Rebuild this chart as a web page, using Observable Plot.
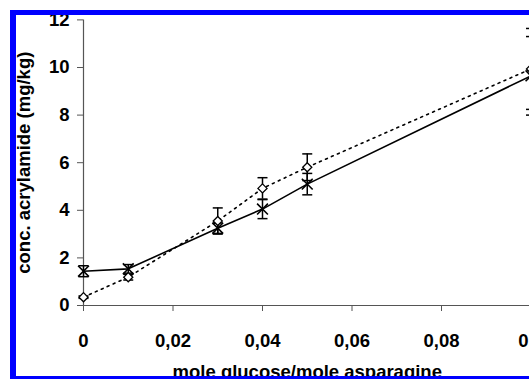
<!DOCTYPE html>
<html>
<head>
<meta charset="utf-8">
<script src="https://cdn.jsdelivr.net/npm/d3@7"></script>
<script src="https://cdn.jsdelivr.net/npm/@observablehq/plot@0.6"></script>
<style>
  html, body { margin: 0; padding: 0; background: #fff; overflow: hidden; }
  #wrap { position: relative; width: 529px; height: 379px; overflow: hidden; }
  #frame { position: absolute; left: 10px; top: 10px; width: 700px; height: 371px;
           box-sizing: border-box; border: 5px solid #0000ff; border-left-width: 6px;
           pointer-events: none; z-index: 2; }
</style>
</head>
<body>
<div id="wrap"><div id="frame"></div></div>
<script>
// data
const ratio = [0, 0.01, 0.03, 0.04, 0.05, 0.1];           // mole glucose / mole asparagine
const solidMean = [1.44, 1.54, 3.25, 4.05, 5.1, 9.65];     // series with x markers, solid line
const solidErr  = [0.23, 0.18, 0.22, 0.40, 0.45, 1.65];
const dottedMean = [0.35, 1.19, 3.55, 4.92, 5.81, 9.94];   // series with diamonds, dotted line
const dottedErr  = [0.05, 0.12, 0.55, 0.45, 0.56, 1.70];
const xTicks = [0, 0.02, 0.04, 0.06, 0.08, 0.1];
const xTickLabels = ["0", "0,02", "0,04", "0,06", "0,08", "0,1"];
const yTicks = [0, 2, 4, 6, 8, 10, 12];
const xLabel = "mole glucose/mole asparagine";
const yLabel = "conc. acrylamide (mg/kg)";

const solid = ratio.map((x, i) => ({x, y: solidMean[i], lo: solidMean[i] - solidErr[i], hi: solidMean[i] + solidErr[i]}));
const dotted = ratio.map((x, i) => ({x, y: dottedMean[i], lo: dottedMean[i] - dottedErr[i], hi: dottedMean[i] + dottedErr[i]}));

const capSymbol = {
  draw(context, size) {
    const r = Math.sqrt(size / Math.PI);
    context.moveTo(-r, 0);
    context.lineTo(r, 0);
  }
};

function errMarks(data) {
  return [
    Plot.ruleX(data, {x: "x", y1: "lo", y2: "hi", stroke: "#000", strokeWidth: 1.5}),
    Plot.dot(data, {x: "x", y: "lo", symbol: capSymbol, r: 5, stroke: "#000", strokeWidth: 1.5}),
    Plot.dot(data, {x: "x", y: "hi", symbol: capSymbol, r: 5, stroke: "#000", strokeWidth: 1.5})
  ];
}

const chart = Plot.plot({
  width: 529,
  height: 379,
  marginLeft: 83,
  marginRight: -1.5,
  marginTop: 19.4,
  marginBottom: 74,
  style: {fontFamily: "'Liberation Sans', Arial, sans-serif", fontSize: "18.5px", fontWeight: "bold", background: "transparent", color: "#000"},
  x: {domain: [0, 0.1]},
  y: {domain: [0, 12]},
  marks: [
    Plot.ruleX([0], {stroke: "#555", strokeWidth: 1.2}),
    Plot.ruleY([0], {stroke: "#555", strokeWidth: 1.2}),
    Plot.axisX({ticks: xTicks, tickFormat: (d, i) => xTickLabels[i], tickSize: 6, tickPadding: 22, stroke: "#555", label: null, fill: "#000"}),
    Plot.axisY({ticks: yTicks, tickSize: 6, tickPadding: 8, stroke: "#555", label: null, fill: "#000"}),
    Plot.text([yLabel], {frameAnchor: "left", textAnchor: "middle", rotate: -90, dx: -59, fill: "#000", fontSize: 18.5, fontWeight: "bold"}),
    Plot.text([xLabel], {frameAnchor: "bottom", textAnchor: "middle", lineAnchor: "bottom", dy: 72, fill: "#000", fontSize: 18.5, fontWeight: "bold"}),
    Plot.line(dotted, {x: "x", y: "y", stroke: "#000", strokeWidth: 1.6, strokeDasharray: "2,4.5"}),
    Plot.line(solid, {x: "x", y: "y", stroke: "#000", strokeWidth: 1.6}),
    ...errMarks(dotted),
    ...errMarks(solid),
    Plot.dot(solid, {x: "x", y: "y", symbol: "times", r: 5, stroke: "#000", strokeWidth: 1.6}),
    Plot.dot(dotted, {x: "x", y: "y", symbol: "diamond2", r: 4.1, fill: "#fff", stroke: "#000", strokeWidth: 1.3})
  ]
});
chart.style.position = "absolute";
chart.style.left = "0px";
chart.style.top = "0px";
document.getElementById("wrap").appendChild(chart);
</script>
</body>
</html>
